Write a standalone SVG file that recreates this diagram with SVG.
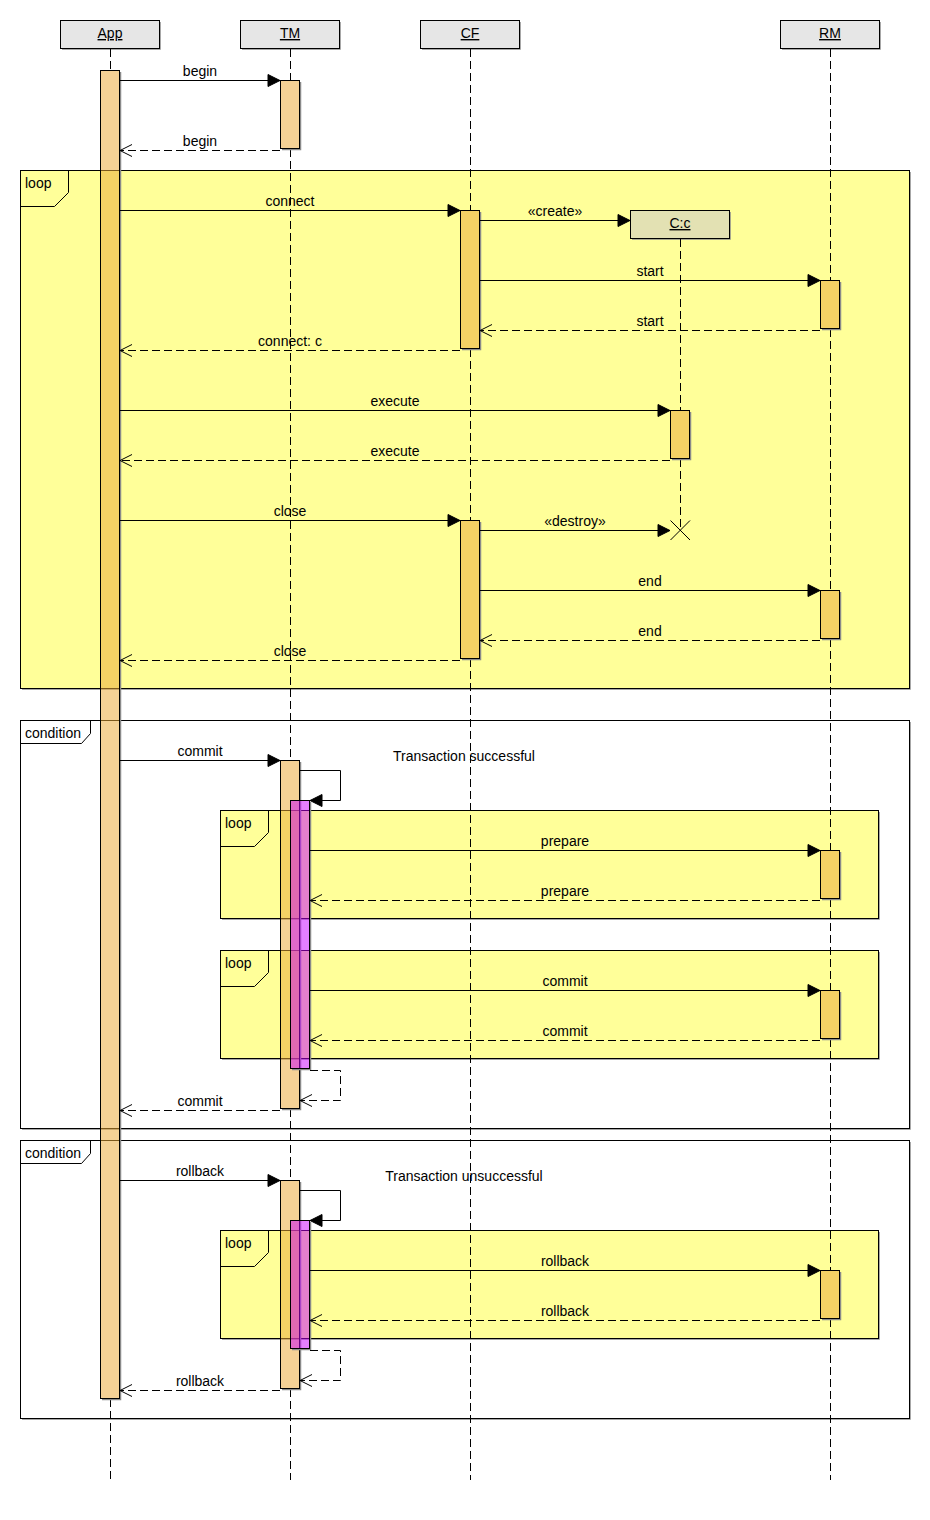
<svg xmlns="http://www.w3.org/2000/svg" width="930" height="1520" viewBox="0 0 930 1520">
<defs>
<style>
text{font-family:"Liberation Sans",Arial,Helvetica,sans-serif;font-size:14px;fill:#000}
.c{text-anchor:middle}
.u{text-decoration:underline}
.loopf{fill:#FFFF99;stroke:#000;stroke-width:1}
.condf{fill:none;stroke:#000;stroke-width:1}
.tab{fill:none;stroke:#000;stroke-width:1}
.sh{fill:none;stroke:#8a8a8a;stroke-width:1.5}
.hdr{fill:#E6E6E6;stroke:#000;stroke-width:1}
.ll{fill:none;stroke:#000;stroke-width:1;stroke-dasharray:8 4}
.act{fill:#ECA837;fill-opacity:0.53;stroke:#000;stroke-width:1}
.pink{fill:#CC00FF;fill-opacity:0.5;stroke:#000;stroke-width:1}
.msg{fill:none;stroke:#000;stroke-width:1}
.ret{fill:none;stroke:#000;stroke-width:1;stroke-dasharray:8 4}
</style>
<marker id="fa" viewBox="0 0 12 12" refX="12" refY="6" markerWidth="12" markerHeight="12" markerUnits="userSpaceOnUse" orient="auto" overflow="visible"><path d="M0,0 L12,6 L0,12 Z" fill="#000" stroke="#000" stroke-width="1" stroke-dasharray="none"/></marker>
<marker id="oa" viewBox="0 0 12 12" refX="12" refY="6" markerWidth="12" markerHeight="12" markerUnits="userSpaceOnUse" orient="auto" overflow="visible"><path d="M0,0 L12,6 L0,12" fill="none" stroke="#000" stroke-width="1" stroke-dasharray="none"/></marker>
</defs>
<rect width="930" height="1520" fill="#fff"/>

<!-- frames -->
<g id="frame-loop-1">
<path class="sh" d="M910,172 V689 H22"/>
<rect class="loopf" x="20.5" y="170.5" width="889" height="518"/>
<path class="tab" d="M20.5,170.5 H68.5 V192.5 L54.5,206.5 H20.5"/>
<text x="25" y="188">loop</text>
</g>
<g id="frame-condition-1">
<path class="sh" d="M910,722 V1129 H22"/>
<rect class="condf" x="20.5" y="720.5" width="889" height="408"/>
<path class="tab" d="M20.5,720.5 H90.5 V733.5 L81.5,743.5 H20.5"/>
<text x="25" y="738">condition</text>
<text class="c" x="464" y="761">Transaction successful</text>
</g>
<g id="frame-loop-2">
<path class="sh" d="M879,812 V919 H222"/>
<rect class="loopf" x="220.5" y="810.5" width="658" height="108"/>
<path class="tab" d="M220.5,810.5 H268.5 V832.5 L254.5,846.5 H220.5"/>
<text x="225" y="828">loop</text>
</g>
<g id="frame-loop-3">
<path class="sh" d="M879,952 V1059 H222"/>
<rect class="loopf" x="220.5" y="950.5" width="658" height="108"/>
<path class="tab" d="M220.5,950.5 H268.5 V972.5 L254.5,986.5 H220.5"/>
<text x="225" y="968">loop</text>
</g>
<g id="frame-condition-2">
<path class="sh" d="M910,1142 V1419 H22"/>
<rect class="condf" x="20.5" y="1140.5" width="889" height="278"/>
<path class="tab" d="M20.5,1140.5 H90.5 V1153.5 L81.5,1163.5 H20.5"/>
<text x="25" y="1158">condition</text>
<text class="c" x="464" y="1181">Transaction unsuccessful</text>
</g>
<g id="frame-loop-4">
<path class="sh" d="M879,1232 V1339 H222"/>
<rect class="loopf" x="220.5" y="1230.5" width="658" height="108"/>
<path class="tab" d="M220.5,1230.5 H268.5 V1252.5 L254.5,1266.5 H220.5"/>
<text x="225" y="1248">loop</text>
</g>

<!-- participants -->
<g id="p-app">
<path class="sh" d="M160,22 V49 H62"/>
<rect class="hdr" x="60.5" y="20.5" width="99" height="28"/>
<text class="c u" x="110" y="38">App</text>
<path class="ll" d="M110.5,49 V70 M110.5,1399 V1480"/>
</g>
<g id="p-tm">
<path class="sh" d="M340,22 V49 H242"/>
<rect class="hdr" x="240.5" y="20.5" width="99" height="28"/>
<text class="c u" x="290" y="38">TM</text>
<path class="ll" d="M290.5,49 V80 M290.5,149 V760 M290.5,1109 V1180 M290.5,1389 V1480"/>
</g>
<g id="p-cf">
<path class="sh" d="M520,22 V49 H422"/>
<rect class="hdr" x="420.5" y="20.5" width="99" height="28"/>
<text class="c u" x="470" y="38">CF</text>
<path class="ll" d="M470.5,49 V210 M470.5,349 V520 M470.5,659 V1480"/>
</g>
<g id="p-rm">
<path class="sh" d="M880,22 V49 H782"/>
<rect class="hdr" x="780.5" y="20.5" width="99" height="28"/>
<text class="c u" x="830" y="38">RM</text>
<path class="ll" d="M830.5,49 V280 M830.5,329 V590 M830.5,639 V850 M830.5,899 V990 M830.5,1039 V1270 M830.5,1319 V1480"/>
</g>
<g id="p-c">
<path class="sh" d="M730,212 V239 H632"/>
<rect x="630.5" y="210.5" width="99" height="28" fill="#E3E1B3" stroke="#000"/>
<text class="c u" x="680" y="228">C:c</text>
<path class="ll" d="M680.5,239 V410 M680.5,459 V530"/>
<path class="msg" d="M670.5,520.5 L690,540 M690,520.5 L670.5,540"/>
</g>

<!-- activations -->
<g id="activations">
<g id="act-app"><path class="sh" d="M120.5,72 V1399.5 H102"/><rect class="act" x="100.5" y="70.5" width="19" height="1328"/></g>
<g id="act-tm-1"><path class="sh" d="M300.5,82 V149.5 H282"/><rect class="act" x="280.5" y="80.5" width="19" height="68"/></g>
<g id="act-cf-1"><path class="sh" d="M480.5,212 V349.5 H462"/><rect class="act" x="460.5" y="210.5" width="19" height="138"/></g>
<g id="act-rm-1"><path class="sh" d="M840.5,282 V329.5 H822"/><rect class="act" x="820.5" y="280.5" width="19" height="48"/></g>
<g id="act-c-1"><path class="sh" d="M690.5,412 V459.5 H672"/><rect class="act" x="670.5" y="410.5" width="19" height="48"/></g>
<g id="act-cf-2"><path class="sh" d="M480.5,522 V659.5 H462"/><rect class="act" x="460.5" y="520.5" width="19" height="138"/></g>
<g id="act-rm-2"><path class="sh" d="M840.5,592 V639.5 H822"/><rect class="act" x="820.5" y="590.5" width="19" height="48"/></g>
<g id="act-tm-2"><path class="sh" d="M300.5,762 V1109.5 H282"/><rect class="act" x="280.5" y="760.5" width="19" height="348"/></g>
<g id="act-tm-2b"><path class="sh" d="M310.5,802 V1069.5 H292"/><rect class="pink" x="290.5" y="800.5" width="19" height="268"/></g>
<g id="act-rm-3"><path class="sh" d="M840.5,852 V899.5 H822"/><rect class="act" x="820.5" y="850.5" width="19" height="48"/></g>
<g id="act-rm-4"><path class="sh" d="M840.5,992 V1039.5 H822"/><rect class="act" x="820.5" y="990.5" width="19" height="48"/></g>
<g id="act-tm-3"><path class="sh" d="M300.5,1182 V1389.5 H282"/><rect class="act" x="280.5" y="1180.5" width="19" height="208"/></g>
<g id="act-tm-3b"><path class="sh" d="M310.5,1222 V1349.5 H292"/><rect class="pink" x="290.5" y="1220.5" width="19" height="128"/></g>
<g id="act-rm-5"><path class="sh" d="M840.5,1272 V1319.5 H822"/><rect class="act" x="820.5" y="1270.5" width="19" height="48"/></g>
</g>

<!-- connectors -->
<g id="connectors">
<path class="msg" d="M120,80.5 H280" marker-end="url(#fa)"/>
<path class="ret" d="M280,150.5 H120" marker-end="url(#oa)"/>
<path class="msg" d="M120,210.5 H460" marker-end="url(#fa)"/>
<path class="msg" d="M480,220.5 H630" marker-end="url(#fa)"/>
<path class="msg" d="M480,280.5 H820" marker-end="url(#fa)"/>
<path class="ret" d="M820,330.5 H480" marker-end="url(#oa)"/>
<path class="ret" d="M460,350.5 H120" marker-end="url(#oa)"/>
<path class="msg" d="M120,410.5 H670" marker-end="url(#fa)"/>
<path class="ret" d="M670,460.5 H120" marker-end="url(#oa)"/>
<path class="msg" d="M120,520.5 H460" marker-end="url(#fa)"/>
<path class="msg" d="M480,530.5 H670" marker-end="url(#fa)"/>
<path class="msg" d="M480,590.5 H820" marker-end="url(#fa)"/>
<path class="ret" d="M820,640.5 H480" marker-end="url(#oa)"/>
<path class="ret" d="M460,660.5 H120" marker-end="url(#oa)"/>
<path class="msg" d="M120,760.5 H280" marker-end="url(#fa)"/>
<path class="msg" d="M300,770.5 H340.5 V800.5 H310" marker-end="url(#fa)"/>
<path class="msg" d="M310,850.5 H820" marker-end="url(#fa)"/>
<path class="ret" d="M820,900.5 H310" marker-end="url(#oa)"/>
<path class="msg" d="M310,990.5 H820" marker-end="url(#fa)"/>
<path class="ret" d="M820,1040.5 H310" marker-end="url(#oa)"/>
<path class="ret" d="M310,1070.5 H340.5 V1100.5 H300" marker-end="url(#oa)"/>
<path class="ret" d="M280,1110.5 H120" marker-end="url(#oa)"/>
<path class="msg" d="M120,1180.5 H280" marker-end="url(#fa)"/>
<path class="msg" d="M300,1190.5 H340.5 V1220.5 H310" marker-end="url(#fa)"/>
<path class="msg" d="M310,1270.5 H820" marker-end="url(#fa)"/>
<path class="ret" d="M820,1320.5 H310" marker-end="url(#oa)"/>
<path class="ret" d="M310,1350.5 H340.5 V1380.5 H300" marker-end="url(#oa)"/>
<path class="ret" d="M280,1390.5 H120" marker-end="url(#oa)"/>
</g>

<!-- labels -->
<g id="labels">
<text class="c" x="200" y="76">begin</text>
<text class="c" x="200" y="146">begin</text>
<text class="c" x="290" y="206">connect</text>
<text class="c" x="555" y="216">«create»</text>
<text class="c" x="650" y="276">start</text>
<text class="c" x="650" y="326">start</text>
<text class="c" x="290" y="346">connect: c</text>
<text class="c" x="395" y="406">execute</text>
<text class="c" x="395" y="456">execute</text>
<text class="c" x="290" y="516">close</text>
<text class="c" x="575" y="526">«destroy»</text>
<text class="c" x="650" y="586">end</text>
<text class="c" x="650" y="636">end</text>
<text class="c" x="290" y="656">close</text>
<text class="c" x="200" y="756">commit</text>
<text class="c" x="565" y="846">prepare</text>
<text class="c" x="565" y="896">prepare</text>
<text class="c" x="565" y="986">commit</text>
<text class="c" x="565" y="1036">commit</text>
<text class="c" x="200" y="1106">commit</text>
<text class="c" x="200" y="1176">rollback</text>
<text class="c" x="565" y="1266">rollback</text>
<text class="c" x="565" y="1316">rollback</text>
<text class="c" x="200" y="1386">rollback</text>
</g>
</svg>
